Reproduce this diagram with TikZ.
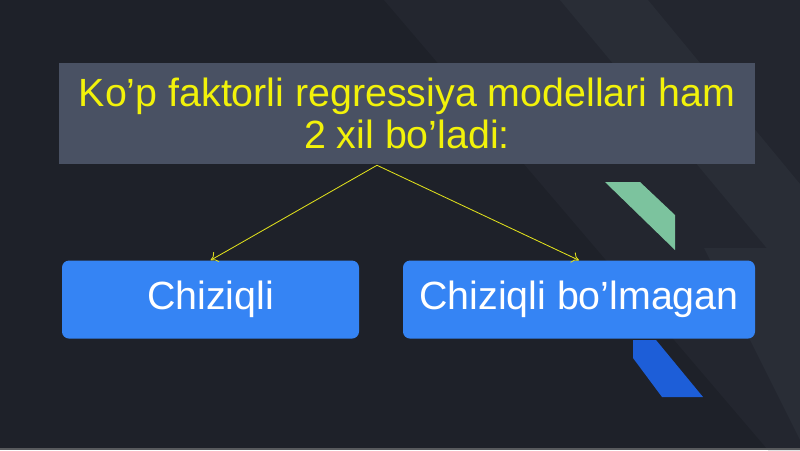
\documentclass[tikz,border=0pt]{standalone}
\usepackage{fontspec}
\setmainfont{Liberation Sans}
\usepackage{xcolor}
\usetikzlibrary{shapes,arrows,arrows.meta,positioning,calc}

\definecolor{bgdark}{HTML}{1E2129}
\definecolor{bgband}{HTML}{23262F}
\definecolor{bglight}{HTML}{292D36}
\definecolor{titlebg}{HTML}{495163}
\definecolor{titletxt}{HTML}{F2F20A}
\definecolor{boxblue}{HTML}{3584F4}
\definecolor{decogreen}{HTML}{7CC39E}
\definecolor{decoblue}{HTML}{1D5ED8}

\begin{document}
\begin{tikzpicture}[
    node distance=2.4cm,
    title/.style={rectangle, fill=titlebg, text=titletxt, align=center, minimum width=17.4cm, minimum height=2.525cm, inner sep=0pt, font=\fontsize{28}{29.8}\selectfont},
    choice/.style={rectangle, rounded corners=5pt, fill=boxblue, text=white, minimum height=1.95cm, inner sep=0pt, font=\fontsize{28}{30}\selectfont},
    arrow/.style={-{To[length=5pt,width=8pt]}, line width=0.6pt, draw=titletxt!85!gray}
]
    % background
    \fill[bgdark] (0,0) rectangle (20,-11.25);
    \fill[bgband] (9.6,0) -- (20,0) -- (20,-11.25) -- (19.2,-11.25) -- cycle;
    \fill[bglight] (14,0) -- (16.2,0) -- (20,-4.6) -- (20,-7.2) -- cycle;
    \fill[bglight] (17.6,-6.2) -- (20,-6.2) -- (20,-11.0) -- cycle;
    \fill[gray!60!bgdark] (0,-11.2) rectangle (20,-11.25);
    % deco shapes
    \fill[decogreen] (15.125,-4.55) -- (16,-4.55) -- (16.875,-5.375) -- (16.875,-6.25) -- cycle;
    \fill[decoblue] (15.825,-8.5) -- (16.4,-8.5) -- (17.575,-9.925) -- (16.55,-9.925) -- (15.825,-8.95) -- cycle;

    \node[title] (types) at (10.175,-2.8375) {Ko’p faktorli regressiya modellari ham\\2 xil bo’ladi:};
    \node[choice, minimum width=7.425cm, below=of types.south west, anchor=north west, xshift=0.075cm] (linear) {Chiziqli};
    \node[choice, minimum width=8.8cm, below=of types.south east, anchor=north east] (nonlinear) {Chiziqli bo’lmagan};

    \coordinate (split) at ($(types.south)+(-0.75,-0.025)$);
    \draw[arrow] (split) -- (linear.north);
    \draw[arrow] (split) -- (nonlinear.north);
\end{tikzpicture}
\end{document}
